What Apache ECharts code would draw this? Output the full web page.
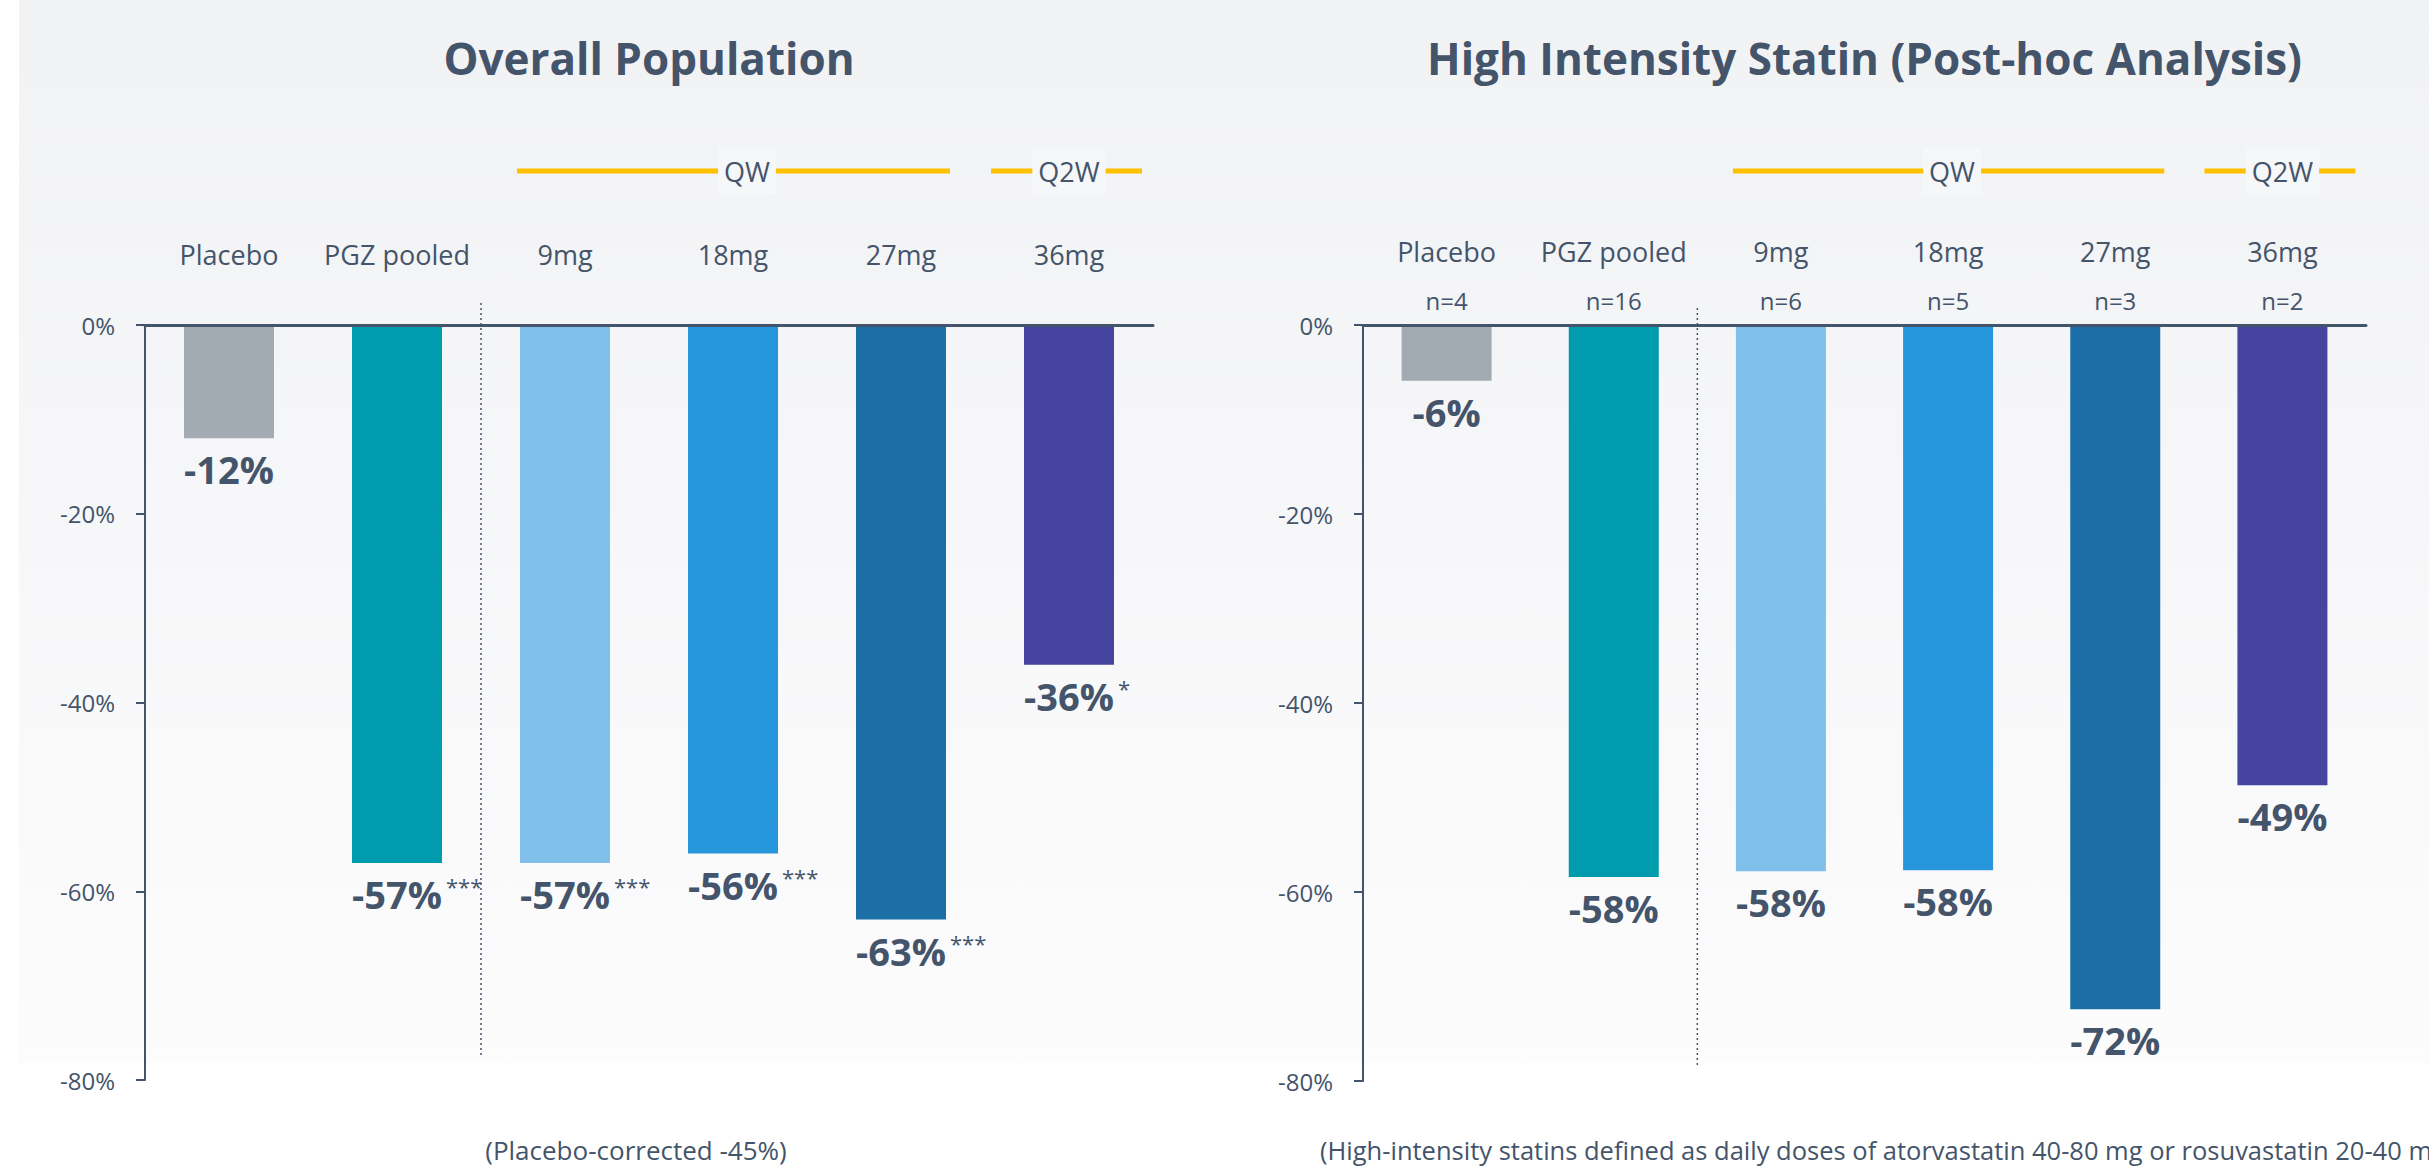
<!DOCTYPE html>
<html>
<head>
<meta charset="utf-8">
<script src="https://cdn.jsdelivr.net/npm/echarts@6/dist/echarts.min.js"></script>
<style>
  html, body { margin: 0; padding: 0; background: #fff; }
  #chart { width: 2429px; height: 1169px; }
</style>
</head>
<body>
<div id="chart"></div>
<script>
// --- data ---
var categories = ['Placebo', 'PGZ pooled', '9mg', '18mg', '27mg', '36mg'];
var sampleSizes = ['n=4', 'n=16', 'n=6', 'n=5', 'n=3', 'n=2'];
var overallValues = [-12, -57, -57, -56, -63, -36];
var overallStars = ['', '***', '***', '***', '***', '*'];
var statinValues = [-5.9, -58.4, -57.8, -57.7, -72.4, -48.7];
var barColors = ['#a2abb1', '#009bad', '#80bfe9', '#2896da', '#1b6fa6', '#4545a0'];
var titles = ['Overall Population', 'High Intensity Statin (Post-hoc Analysis)'];
var footnotes = ['(Placebo-corrected -45%)', '(High-intensity statins defined as daily doses of atorvastatin 40-80 mg or rosuvastatin 20-40 mg)'];

(function(){
  var ink = '#44546a';
  var gold = '#ffc000';
  var font = "'Open Sans', 'Noto Sans', sans-serif";

  var chart = echarts.init(document.getElementById('chart'), null, { renderer: 'svg' });

  function barData(values) {
    return values.map(function(v, i) {
      return { value: v, itemStyle: { color: barColors[i] } };
    });
  }

  var valueRich = {
    v: { fontSize: 38, fontWeight: 'bold', color: ink, fontFamily: font },
    s: { fontSize: 22, color: ink, fontFamily: font, verticalAlign: 'top', padding: [0, 0, 0, 4] },
    p: { fontSize: 22, color: 'rgba(0,0,0,0)', fontFamily: font, verticalAlign: 'top', padding: [0, 4, 0, 0] }
  };

  function yAxis(idx) {
    return {
      type: 'value', gridIndex: idx, min: -80, max: 0, interval: 20,
      axisLine: { show: true, lineStyle: { color: ink, width: 2 } },
      axisTick: { show: true, length: 9, lineStyle: { color: ink, width: 2 } },
      axisLabel: { formatter: '{value}%', color: ink, fontSize: 24, margin: 30, fontFamily: font },
      splitLine: { show: false }
    };
  }

  chart.setOption({
    animation: false,
    grid: [
      { left: 145, top: 325, width: 1008, height: 755 },
      { left: 1363, top: 325, width: 1003, height: 756 }
    ],
    xAxis: [
      {
        type: 'category', gridIndex: 0, data: categories, position: 'top', z: 5,
        axisLine: { lineStyle: { color: ink, width: 3 } },
        axisTick: { show: false },
        axisLabel: { interval: 0, color: ink, fontSize: 27, lineHeight: 49, margin: 46, fontFamily: font }
      },
      {
        type: 'category', gridIndex: 1, data: categories, position: 'top', z: 5,
        axisLine: { lineStyle: { color: ink, width: 3 } },
        axisTick: { show: false },
        axisLabel: {
          interval: 0, margin: 0,
          formatter: function(v, i) { return '{c|' + v + '}\n{n|' + sampleSizes[i] + '}'; },
          rich: {
            c: { color: ink, fontSize: 27, lineHeight: 49, fontFamily: font },
            n: { color: ink, fontSize: 24, lineHeight: 49, fontFamily: font }
          }
        }
      }
    ],
    yAxis: [yAxis(0), yAxis(1)],
    series: [
      {
        type: 'bar', xAxisIndex: 0, yAxisIndex: 0, barWidth: 90,
        data: barData(overallValues),
        label: {
          show: true, position: 'bottom', distance: 12,
          formatter: function(p) {
            var s = overallStars[p.dataIndex];
            return (s ? '{p|' + s + '}' : '') + '{v|' + p.value + '%}' + (s ? '{s|' + s + '}' : '');
          },
          rich: valueRich
        }
      },
      {
        type: 'bar', xAxisIndex: 1, yAxisIndex: 1, barWidth: 90,
        data: barData(statinValues),
        label: {
          show: true, position: 'bottom', distance: 12,
          formatter: function(p) { return '{v|' + Math.round(p.value) + '%}'; },
          rich: valueRich
        }
      }
    ]
  });

  // decorations placed through the axes' own scales
  function px(g, i) { return chart.convertToPixel({ gridIndex: g }, [i, 0])[0]; }
  function py(g, v) { return chart.convertToPixel({ gridIndex: g }, [0, v])[1]; }

  var graphics = [{
    type: 'rect', z: -10, silent: true,
    shape: { x: 19, y: 0, width: 2410, height: 1063 },
    style: { fill: new echarts.graphic.LinearGradient(0, 0, 0, 1, [
      { offset: 0, color: '#f1f2f4' }, { offset: 1, color: '#fcfcfd' }
    ]) }
  }];

  var sepTop = [303, 308], sepBottom = [-77.6, -78.6];
  [0, 1].forEach(function(g) {
    var cx = (px(g, 0) + px(g, 5)) / 2;
    // title
    graphics.push({
      type: 'text', z: 10,
      style: { text: titles[g], x: cx, y: 58, align: 'center', verticalAlign: 'middle',
               fontSize: 44, fontWeight: 'bold', fontFamily: font, fill: ink }
    });
    // dotted separator
    var sx = (px(g, 1) + px(g, 2)) / 2;
    graphics.push({
      type: 'line', z: 10,
      shape: { x1: sx, y1: sepTop[g], x2: sx, y2: py(g, sepBottom[g]) },
      style: { stroke: ink, lineWidth: 1.5, lineDash: [2, 3] }
    });
    // dosing brackets
    var ly = 171;
    graphics.push({
      type: 'line', z: 10,
      shape: { x1: px(g, 2) - 48, y1: ly, x2: px(g, 4) + 49, y2: ly },
      style: { stroke: gold, lineWidth: 5 }
    });
    graphics.push({
      type: 'line', z: 10,
      shape: { x1: px(g, 5) - 78, y1: ly, x2: px(g, 5) + 73, y2: ly },
      style: { stroke: gold, lineWidth: 5 }
    });
    graphics.push({
      type: 'text', z: 11,
      style: { text: 'QW', x: px(g, 3) + (g === 0 ? 14 : 4), y: ly, align: 'center', verticalAlign: 'middle',
               fontSize: 27, fontFamily: font, fill: ink, backgroundColor: '#f6f7f8', padding: [10, 6] }
    });
    graphics.push({
      type: 'text', z: 11,
      style: { text: 'Q2W', x: px(g, 5), y: ly, align: 'center', verticalAlign: 'middle',
               fontSize: 27, fontFamily: font, fill: ink, backgroundColor: '#f6f7f8', padding: [10, 6] }
    });
  });

  graphics.push({
    type: 'text', z: 10,
    style: { text: footnotes[0], x: 636, y: 1150, align: 'center', verticalAlign: 'middle',
             fontSize: 26, fontFamily: font, fill: ink }
  });
  graphics.push({
    type: 'text', z: 10,
    style: { text: footnotes[1], x: 1320, y: 1150, align: 'left', verticalAlign: 'middle',
             fontSize: 25.5, fontFamily: font, fill: ink }
  });

  chart.setOption({ graphic: graphics });
  window.addEventListener('resize', function(){ chart.resize(); });
})();
</script>
</body>
</html>
